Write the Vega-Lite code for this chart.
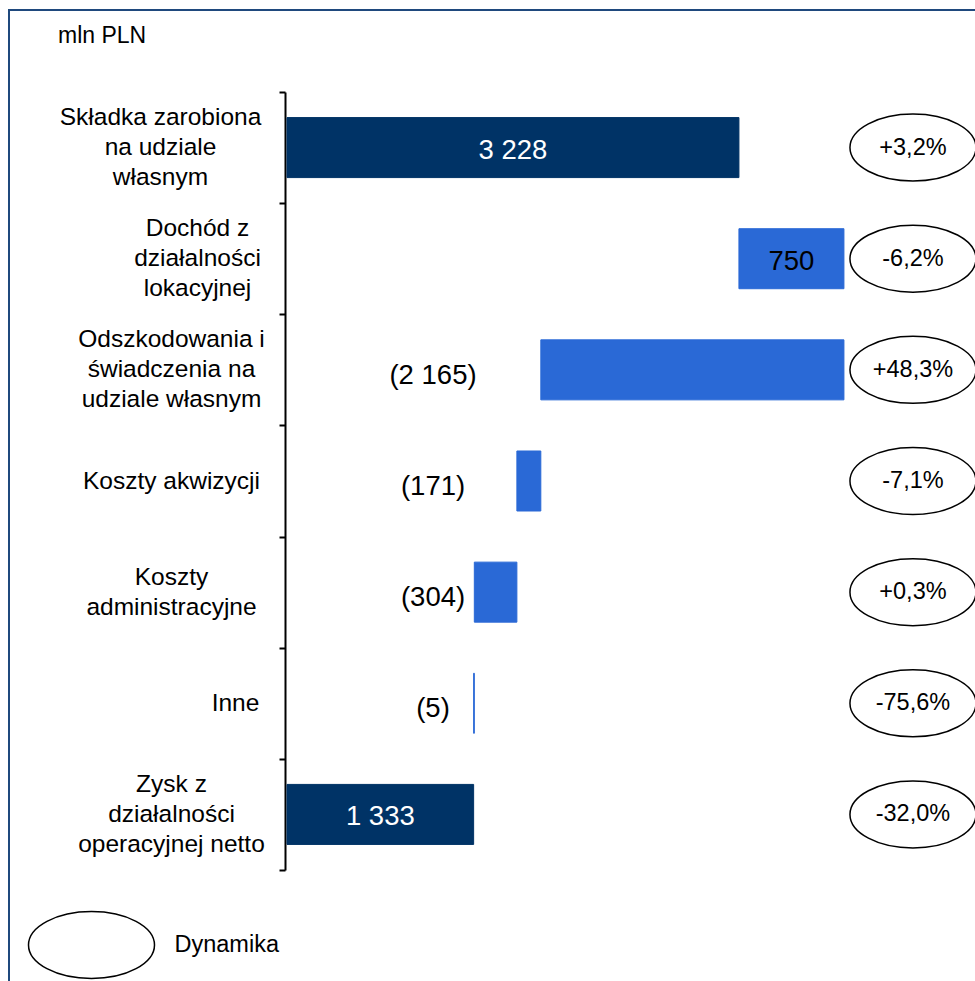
{
  "$schema": "https://vega.github.io/schema/vega-lite/v6.json",
  "width": 968,
  "height": 973,
  "autosize": {"type": "none"},
  "padding": {"left": 9, "top": 10, "right": -2, "bottom": -2},
  "background": "white",
  "title": {"text": "mln PLN", "anchor": "start", "frame": "group", "orient": "top", "offset": -31, "baseline": "top", "dx": 49, "dy": 20, "fontSize": 23, "font": "Liberation Sans", "fontWeight": "normal", "color": "black"},
  "config": {"view": {"stroke": "#1f497d", "strokeWidth": 2}, "font": "Liberation Sans"},
  "data": {"values": [
    {"cat": "Składka zarobiona|na udziale|własnym", "start": 0, "end": 3228, "label": "3 228", "kind": "total", "dyn": "+3,2%"},
    {"cat": "Dochód z|działalności|lokacyjnej", "start": 3228, "end": 3978, "label": "750", "kind": "gain", "dyn": "-6,2%"},
    {"cat": "Odszkodowania i|świadczenia na|udziale własnym", "start": 1813, "end": 3978, "label": "(2 165)", "kind": "cost", "dyn": "+48,3%"},
    {"cat": "Koszty akwizycji", "start": 1642, "end": 1813, "label": "(171)", "kind": "cost", "dyn": "-7,1%"},
    {"cat": "Koszty|administracyjne", "start": 1338, "end": 1642, "label": "(304)", "kind": "cost", "dyn": "+0,3%"},
    {"cat": "Inne", "start": 1333, "end": 1338, "label": "(5)", "kind": "cost", "dyn": "-75,6%"},
    {"cat": "Zysk z|działalności|operacyjnej netto", "start": 0, "end": 1333, "label": "1 333", "kind": "total", "dyn": "-32,0%"}
  ]},
  "encoding": {
    "y": {
      "field": "cat", "type": "nominal", "sort": null,
      "scale": {"range": [82, 860], "paddingInner": 0, "paddingOuter": 0},
      "axis": {
        "orient": "left", "offset": -276, "title": null,
        "domain": true, "domainColor": "black", "domainWidth": 2,
        "ticks": true, "tickColor": "black", "tickWidth": 2, "tickSize": 6, "tickBand": "extent",
        "labelExpr": "split(datum.label, '|')",
        "labelFont": "Liberation Sans", "labelFontSize": 24.5, "labelLineHeight": 30, "labelColor": "black",
        "labelAlign": "center", "labelBaseline": "middle", "labelLimit": 0,
        "labelPadding": {"condition": [
          {"test": "datum.value === 'Inne'", "value": 44},
          {"test": "datum.value === 'Dochód z|działalności|lokacyjnej'", "value": 82},
          {"test": "datum.value === 'Składka zarobiona|na udziale|własnym'", "value": 119}
        ], "value": 108},
        "labelOffset": {"condition": [
          {"test": "datum.value === 'Inne' || datum.value === 'Koszty akwizycji'", "value": 0},
          {"test": "datum.value === 'Koszty|administracyjne'", "value": -15}
        ], "value": -30},
        "grid": false
      }
    }
  },
  "layer": [
    {
      "mark": {"type": "bar", "height": {"band": 0.54}, "strokeWidth": 1},
      "encoding": {
        "x": {"field": "start", "type": "quantitative", "scale": {"domain": [0, 4857], "range": [278, 958], "nice": false, "zero": false}, "axis": null},
        "x2": {"field": "end"},
        "color": {"field": "kind", "type": "nominal", "scale": {"domain": ["total", "gain", "cost"], "range": ["#003366", "#2a69d6", "#2a69d6"]}, "legend": null},
        "stroke": {"field": "kind", "type": "nominal", "scale": {"domain": ["total", "gain", "cost"], "range": ["#003366", "#2a69d6", "#2a69d6"]}, "legend": null}
      }
    },
    {
      "transform": [{"filter": "datum.kind !== 'cost'"}, {"calculate": "(datum.start + datum.end) / 2", "as": "mid"}],
      "mark": {"type": "text", "fontSize": 27.5, "dy": 3, "baseline": "middle", "align": "center", "font": "Liberation Sans"},
      "encoding": {
        "x": {"field": "mid", "type": "quantitative"},
        "text": {"field": "label"},
        "color": {"condition": {"test": "datum.kind === 'total'", "value": "white"}, "value": "black"}
      }
    },
    {
      "transform": [{"filter": "datum.kind === 'cost'"}],
      "mark": {"type": "text", "fontSize": 27.5, "dy": 6, "baseline": "middle", "align": "center", "color": "black", "font": "Liberation Sans"},
      "encoding": {
        "x": {"datum": 1043, "type": "quantitative"},
        "text": {"field": "label"}
      }
    },
    {
      "mark": {"type": "point", "filled": false, "stroke": "black", "strokeWidth": 1.5, "size": 15876, "opacity": 1},
      "encoding": {
        "x": {"datum": 4471, "type": "quantitative"},
        "shape": {
          "datum": "Dynamika", "type": "nominal",
          "scale": {"range": ["M -1 0 A 1 0.532 0 1 1 1 0 A 1 0.532 0 1 1 -1 0 Z"]},
          "legend": {
            "orient": "none", "legendX": 18.5, "legendY": 871, "title": null, "padding": 0,
            "symbolSize": 15876, "symbolStrokeColor": "black", "symbolFillColor": "white", "symbolStrokeWidth": 1.5, "symbolOpacity": 1,
            "labelFont": "Liberation Sans", "labelFontSize": 23.5, "labelColor": "black", "labelOffset": 19, "labelLimit": 0
          }
        }
      }
    },
    {
      "mark": {"type": "text", "fontSize": 23.5, "color": "black", "baseline": "middle", "align": "center", "font": "Liberation Sans"},
      "encoding": {
        "x": {"datum": 4471, "type": "quantitative"},
        "text": {"field": "dyn"}
      }
    }
  ]
}
